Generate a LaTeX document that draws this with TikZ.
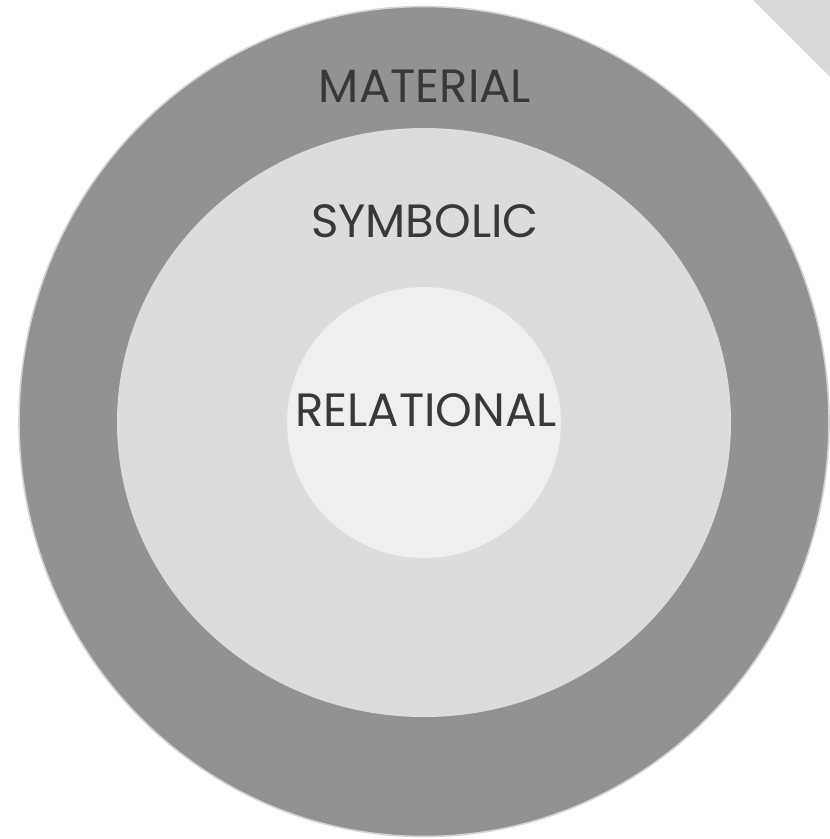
\documentclass[tikz,border=0pt]{standalone}
\usepackage{fontspec}
\newfontfamily\labelfont{Poppins}
\definecolor{outerfill}{HTML}{929292}
\definecolor{outerline}{HTML}{D4D4D4}
\definecolor{midfill}{HTML}{DCDCDC}
\definecolor{innerfill}{HTML}{EFEFEF}
\definecolor{cornerfill}{HTML}{DADADA}
\definecolor{textcol}{HTML}{383838}
\begin{document}
\begin{tikzpicture}[x=0.75pt,y=-0.75pt,
  ringlabel/.style={anchor=base,inner sep=0pt,text=textcol,font=\labelfont\fontsize{35}{40}\selectfont}]
\useasboundingbox (0,0) rectangle (830,839);
\fill[white] (0,0) rectangle (830,839);
\fill[cornerfill] (753,0) -- (830,0) -- (830,77) -- cycle;
\fill[outerfill,draw=outerline,line width=1.2pt] (424,421.5) ellipse [x radius=405, y radius=415];
\fill[midfill] (424,422.5) ellipse [x radius=307, y radius=294.5];
\fill[innerfill] (424,422.5) ellipse [x radius=137, y radius=135.5];
\node[ringlabel] (material) at (425,102) {MATERIAL};
\node[ringlabel] (symbolic) at (425,237) {SYMBOLIC};
\node[ringlabel] (relational) at (426,426) {RELATIONAL};
\end{tikzpicture}
\end{document}
